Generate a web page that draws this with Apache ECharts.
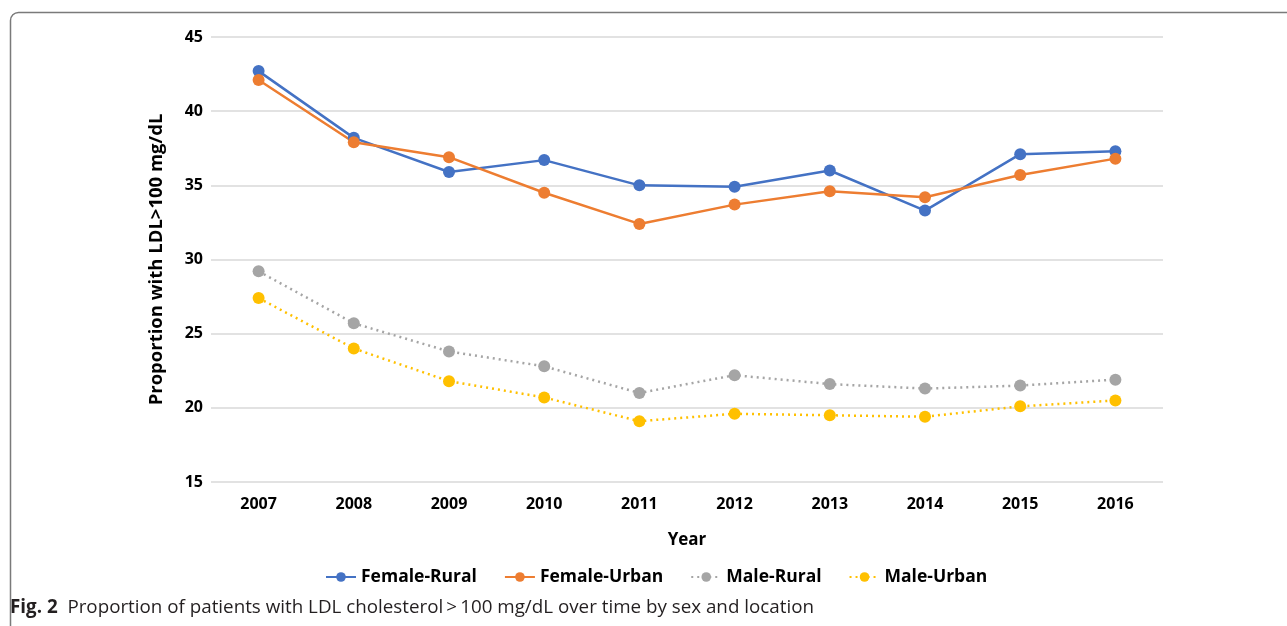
<!DOCTYPE html>
<html><head><meta charset="utf-8">
<script src="https://cdn.jsdelivr.net/npm/echarts@6/dist/echarts.min.js"></script>
<style>html,body{margin:0;padding:0;background:#fff}#c{width:1287px;height:626px}</style>
</head><body><div id="c"></div>
<script>
const years = ['2007','2008','2009','2010','2011','2012','2013','2014','2015','2016'];
const femaleRural = [42.7, 38.2, 35.9, 36.7, 35.0, 34.9, 36.0, 33.3, 37.1, 37.3];
const femaleUrban = [42.1, 37.9, 36.9, 34.5, 32.4, 33.7, 34.6, 34.2, 35.7, 36.8];
const maleRural = [29.2, 25.7, 23.8, 22.8, 21.0, 22.2, 21.6, 21.3, 21.5, 21.9];
const maleUrban = [27.4, 24.0, 21.8, 20.7, 19.1, 19.6, 19.5, 19.4, 20.1, 20.5];
const yTicks = [15, 20, 25, 30, 35, 40, 45];

const F = 'Open Sans, Noto Sans, sans-serif';
const chart = echarts.init(document.getElementById('c'));
function mk(name, data, color, dotted){
  return {name, type:'line', data, symbol:'circle', symbolSize:12,
    itemStyle:{color}, lineStyle:{color, width:2.5, type: dotted?[2,4]:'solid'},
    emphasis:{disabled:true}};
}
chart.setOption({
  animation:false,
  graphic:[
    {type:'rect', shape:{x:10.5,y:12.5,width:1300,height:640,r:8}, style:{fill:'none',stroke:'#7a7a7a',lineWidth:1.5}},
    {type:'text', left:10, top:598, style:{text:'{b|Fig. 2}  Proportion of patients with LDL cholesterol\u2009>\u2009100 mg/dL over time by sex and location',
      rich:{b:{fontWeight:'bold',fontSize:18.8,fontFamily:F,fill:'#231f20'}},
      fontSize:18.8, fontFamily:F, fill:'#231f20'}}
  ],
  grid:{left:211, right:124, top:37, bottom:144},
  legend:{top:563, left:320, itemWidth:30, itemHeight:12, itemGap:27,
    textStyle:{fontSize:17.5, fontWeight:'bold', color:'#000', fontFamily:F},
    data:['Female-Rural','Female-Urban','Male-Rural','Male-Urban']},
  xAxis:{type:'category', data:years, boundaryGap:true,
    name:'Year', nameLocation:'middle', nameGap:50,
    nameTextStyle:{fontSize:17, fontWeight:'bold', color:'#000', fontFamily:F},
    axisLine:{show:false}, axisTick:{show:false},
    axisLabel:{fontSize:16, fontWeight:'bold', color:'#000', margin:14, fontFamily:F}},
  yAxis:{type:'value', min:yTicks[0], max:yTicks[yTicks.length-1], interval:5,
    name:'Proportion with LDL>100 mg/dL', nameLocation:'middle', nameGap:45,
    nameTextStyle:{fontSize:18.5, fontWeight:'bold', color:'#000', fontFamily:F},
    axisLine:{show:false}, axisTick:{show:false},
    axisLabel:{fontSize:16, fontWeight:'bold', color:'#000', margin:8, fontFamily:F},
    splitLine:{lineStyle:{color:'#d9d9d9', width:1.5}}},
  series:[
    mk('Female-Rural', femaleRural, '#4472c4', false),
    mk('Female-Urban', femaleUrban, '#ed7d31', false),
    mk('Male-Rural', maleRural, '#a5a5a5', true),
    mk('Male-Urban', maleUrban, '#ffc000', true)
  ]
});
</script></body></html>
